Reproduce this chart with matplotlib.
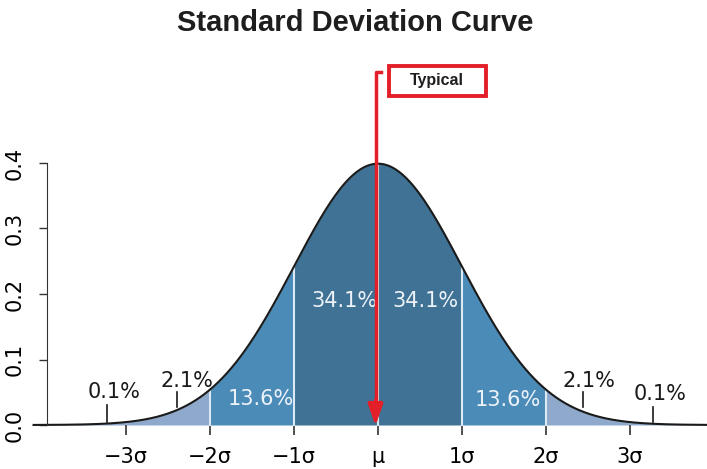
import numpy as np
import matplotlib
matplotlib.use('Agg')
import matplotlib.pyplot as plt
from matplotlib.patches import Rectangle

plt.rcParams['font.family'] = ['DejaVu Sans']

# distribution
mu = 0.0
sigma = 1.0

# shaded bands (in sigma units) and their colours
band_edges = [-4.1, -3, -2, -1, 0, 1, 2, 3, 3.9]
band_colors = ['#8ea9cb', '#8ea9cb', '#4b8bb8', '#3f7294',
               '#3f7294', '#4b8bb8', '#8ea9cb', '#8ea9cb']

# x ticks
tick_pos = [-3, -2, -1, 0, 1, 2, 3]
tick_labels = ['\u22123\u03c3', '\u22122\u03c3', '\u22121\u03c3', '\u03bc',
               '1\u03c3', '2\u03c3', '3\u03c3']
y_ticks = [0.0, 0.1, 0.2, 0.3, 0.4]

# percentage labels: text, x, y, colour
pct_text = ['0.1%', '2.1%', '13.6%', '34.1%', '34.1%', '13.6%', '2.1%', '0.1%']
pct_x = [-3.14, -2.27, -1.40, -0.40, 0.57, 1.55, 2.51, 3.36]
pct_y = [0.050, 0.067, 0.040, 0.189, 0.189, 0.038, 0.067, 0.047]
pct_white = [False, False, True, True, True, True, False, False]

# little marker lines under the tail labels: x, y0, y1
mark_x = [-3.23, -2.39, 2.44, 3.27]
mark_y0 = [0.005, 0.027, 0.027, 0.005]
mark_y1 = [0.031, 0.050, 0.050, 0.028]


def pdf(x):
    return np.exp(-0.5 * ((x - mu) / sigma) ** 2) / (sigma * np.sqrt(2 * np.pi))


W, H = 707, 469
fig = plt.figure(figsize=(W / 100, H / 100), dpi=100)
# axes: x pixel 34..707, y=0 at 425px, y=0.4 at 163px
ax = fig.add_axes([34 / W, 44 / H, (707 - 34) / W, (425 - 163) / H])
ax.set_xlim(-4.095, 3.917)
ax.set_ylim(0, 0.4)

for i in range(len(band_colors)):
    xs = np.linspace(band_edges[i], band_edges[i + 1], 100)
    ax.fill_between(xs, 0, pdf(xs), color=band_colors[i], lw=0, clip_on=False)

for b in [-2, -1, 0, 1, 2]:
    ax.plot([b, b], [0, pdf(b)], color='#dbe9f5', lw=1.5, clip_on=False)

xs = np.linspace(-4.1, 3.92, 600)
ax.plot(xs, pdf(xs), color='#1a1a1a', lw=1.5, clip_on=False)

for t, x, y, w in zip(pct_text, pct_x, pct_y, pct_white):
    ax.text(x, y, t, ha='center', va='center', fontsize=15,
            color='#eef3f9' if w else '#1a1a1a')

for x, y0, y1 in zip(mark_x, mark_y0, mark_y1):
    ax.plot([x, x], [y0, y1], color='#1a1a1a', lw=1.2)

for s in ['top', 'right', 'bottom']:
    ax.spines[s].set_visible(False)
ax.spines['left'].set_position(('data', -3.94))
ax.spines['left'].set_bounds(0, 0.4)
ax.spines['left'].set_color('#333333')

ax.set_xticks(tick_pos)
ax.set_xticklabels(tick_labels, fontsize=15)
ax.set_yticks(y_ticks)
ax.set_yticklabels([f'{v:.1f}' for v in y_ticks], fontsize=15, rotation=90,
                   va='center')
ax.tick_params(axis='x', length=7, width=1.2, pad=9, color='#333333')
ax.tick_params(axis='y', length=6, width=1.0, pad=10, color='#333333')

fig.text(355 / W, 1 - 23 / H, 'Standard Deviation Curve', ha='center',
         va='center', fontsize=21, fontweight='bold',
         family='Liberation Sans', color='#1e1e1e')

# Typical marker
red = '#e3202a'
fig.add_artist(Rectangle((389 / W, 1 - 96 / H), 97 / W, 30 / H,
                         transform=fig.transFigure, fill=False,
                         edgecolor=red, lw=2.8))
fig.text(437 / W, 1 - 80 / H, 'Typical', ha='center', va='center',
         fontsize=11.5, fontweight='bold', family='Liberation Sans',
         color='#1e1e1e')
fig.add_artist(plt.Line2D([381 / W, 375.5 / W, 375.5 / W],
                          [1 - 72 / H, 1 - 72 / H, 1 - 405 / H],
                          transform=fig.transFigure, color=red, lw=2.5))
ax.annotate('', xy=(375.5 / W, 1 - 426 / H), xycoords='figure fraction',
            xytext=(375.5 / W, 1 - 400 / H), textcoords='figure fraction',
            arrowprops=dict(arrowstyle='-|>,head_length=1.3,head_width=0.45',
                            color=red, lw=2.5, shrinkA=0, shrinkB=0))

fig.savefig('out.png', dpi=100)
